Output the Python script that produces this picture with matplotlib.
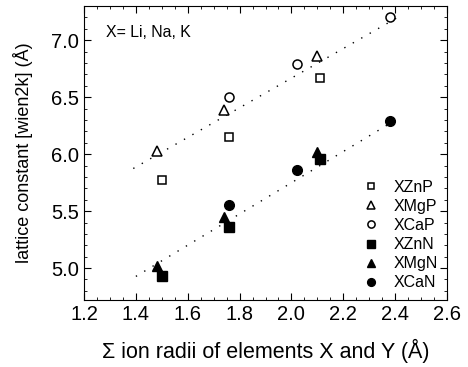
import numpy as np
import matplotlib
matplotlib.use("Agg")
import matplotlib.pyplot as plt
from matplotlib.ticker import MultipleLocator, FormatStrFormatter

plt.rcParams['font.family'] = ['Liberation Sans', 'DejaVu Sans']

# Daten
x_zn = [1.50, 1.76, 2.11]
x_mg = [1.48, 1.74, 2.10]
x_ca = [1.76, 2.02, 2.38]

a_znp = [5.77, 6.15, 6.67]
a_mgp = [6.03, 6.39, 6.86]
a_cap = [6.50, 6.79, 7.20]
a_znn = [4.93, 5.36, 5.96]
a_mgn = [5.02, 5.45, 6.02]
a_can = [5.55, 5.86, 6.29]

# Trendlinien (Steigung, Achsenabschnitt, x-Bereich)
fit_p = (1.30, 4.067, (1.39, 2.42))
fit_n = (1.37, 3.009, (1.40, 2.41))

fig = plt.figure(figsize=(4.68, 3.67), dpi=100)
ax = fig.add_axes([84/468, 1 - 300/367, (447-84)/468, (300-6)/367])

for slope, icpt, (x0, x1) in (fit_p, fit_n):
    xs = np.array([x0, x1])
    ax.plot(xs, slope*xs + icpt, color='k', lw=1.0, ls=(0, (1, 6)), zorder=1)

ms = 6.5
ax.plot(x_zn, a_znp, 's', mfc='white', mec='k', mew=1.1, ms=ms-0.5, ls='none', label='XZnP')
ax.plot(x_mg, a_mgp, '^', mfc='white', mec='k', mew=1.1, ms=ms+0.5, ls='none', label='XMgP')
ax.plot(x_ca, a_cap, 'o', mfc='white', mec='k', mew=1.1, ms=ms, ls='none', label='XCaP')
ax.plot(x_zn, a_znn, 's', color='k', ms=ms, ls='none', label='XZnN')
ax.plot(x_mg, a_mgn, '^', color='k', ms=ms+1, ls='none', label='XMgN')
ax.plot(x_ca, a_can, 'o', color='k', ms=ms+0.5, ls='none', label='XCaN')

ax.set_xlim(1.2, 2.6)
ax.set_ylim(4.72, 7.30)
ax.xaxis.set_major_locator(MultipleLocator(0.2))
ax.xaxis.set_minor_locator(MultipleLocator(0.05))
ax.yaxis.set_major_locator(MultipleLocator(0.5))
ax.yaxis.set_minor_locator(MultipleLocator(0.1))
ax.tick_params(which='both', direction='in', top=True, right=True, labelsize=14.5)
ax.tick_params(which='major', length=5)
ax.tick_params(which='minor', length=2.5)
ax.xaxis.set_major_formatter(FormatStrFormatter('%.1f'))
ax.yaxis.set_major_formatter(FormatStrFormatter('%.1f'))

ax.set_xlabel('Σ ion radii of elements X and Y (Å)', fontsize=15.5, labelpad=11)
ax.set_ylabel('lattice constant [wien2k] (Å)', fontsize=13)
ax.yaxis.set_label_coords(-0.14, 0.5)

ax.text(0.06, 0.91, 'X= Li, Na, K', transform=ax.transAxes, fontsize=11.4, va='center')

ax.legend(loc='lower right', frameon=False, fontsize=11.5, handletextpad=0.9,
          labelspacing=0.26, borderaxespad=0.2, handlelength=1.0, markerscale=0.8)

fig.savefig('out.png', dpi=100)
